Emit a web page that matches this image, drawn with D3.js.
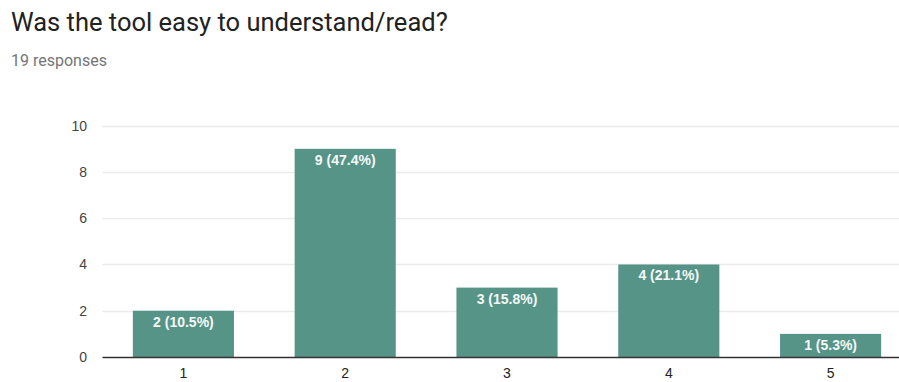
<!DOCTYPE html>
<html>
<head>
<meta charset="utf-8">
<script src="https://cdn.jsdelivr.net/npm/d3@7"></script>
<style>
  html, body { margin: 0; padding: 0; background: #fff; overflow: hidden; }
  svg { display: block; }
</style>
</head>
<body>
<svg id="chart" width="899" height="382"></svg>
<script>
// Survey answers: rating category and number of responses
const categories = ["1", "2", "3", "4", "5"];
const counts = [2, 9, 3, 4, 1];
const yTicks = [0, 2, 4, 6, 8, 10];
const titleText = "Was the tool easy to understand/read?";
const subtitleText = "19 responses";

const total = d3.sum(counts);
const W = 899, H = 382;
const svg = d3.select("#chart");

// Header
svg.append("text")
  .attr("x", 11).attr("y", 31)
  .attr("font-family", "Roboto, Arial, sans-serif")
  .attr("font-size", 25.5)
  .attr("fill", "#212121")
  .text(titleText);

svg.append("text")
  .attr("x", 11).attr("y", 66)
  .attr("font-family", "Roboto, Arial, sans-serif")
  .attr("font-size", 16)
  .attr("fill", "#757575")
  .text(subtitleText);

// Scales
const x = d3.scaleBand()
  .domain(categories)
  .range([102.5, 911.5])
  .paddingInner(0.375)
  .paddingOuter(0.1875);

const y = d3.scaleLinear()
  .domain([0, 10])
  .range([357, 125.7]);

const plotLeft = 102.5, plotRight = W;

// Horizontal gridlines
svg.append("g")
  .selectAll("line")
  .data(yTicks.filter(t => t > 0))
  .join("line")
  .attr("x1", plotLeft).attr("x2", plotRight)
  .attr("y1", d => Math.round(y(d)) + 0.5)
  .attr("y2", d => Math.round(y(d)) + 0.5)
  .attr("stroke", "#ebebeb")
  .attr("stroke-width", 1.5);

// Y axis labels
const yAxis = d3.axisLeft(y).tickValues(yTicks).tickSize(0).tickPadding(0);
const gy = svg.append("g")
  .attr("transform", `translate(87,0)`)
  .call(yAxis);
gy.select(".domain").remove();
gy.selectAll("text")
  .attr("font-family", "Arial, 'Liberation Sans', sans-serif")
  .attr("font-size", 14)
  .attr("fill", "#444");

// Bars
const bars = svg.append("g");
bars.selectAll("rect")
  .data(categories)
  .join("rect")
  .attr("x", d => x(d))
  .attr("width", x.bandwidth())
  .attr("y", (d, i) => y(counts[i]))
  .attr("height", (d, i) => y(0) - y(counts[i]))
  .attr("fill", "#579488");

// Value labels inside bars
bars.selectAll("text")
  .data(categories)
  .join("text")
  .attr("x", d => x(d) + x.bandwidth() / 2)
  .attr("y", (d, i) => y(counts[i]) + 16)
  .attr("text-anchor", "middle")
  .attr("font-family", "Arial, 'Liberation Sans', sans-serif")
  .attr("font-size", 14)
  .attr("font-weight", "bold")
  .attr("fill", "#f4f8f7")
  .text((d, i) => `${counts[i]} (${(counts[i] / total * 100).toFixed(1)}%)`);

// Baseline
svg.append("line")
  .attr("x1", plotLeft).attr("x2", plotRight)
  .attr("y1", y(0) + 0.5).attr("y2", y(0) + 0.5)
  .attr("stroke", "#333")
  .attr("stroke-width", 1.3);

// X axis labels
const xAxis = d3.axisBottom(x).tickSize(0).tickPadding(0);
const gx = svg.append("g")
  .attr("transform", `translate(0,${y(0) + 11})`)
  .call(xAxis);
gx.select(".domain").remove();
gx.selectAll("text")
  .attr("font-family", "Arial, 'Liberation Sans', sans-serif")
  .attr("font-size", 14)
  .attr("fill", "#222");
</script>
</body>
</html>
